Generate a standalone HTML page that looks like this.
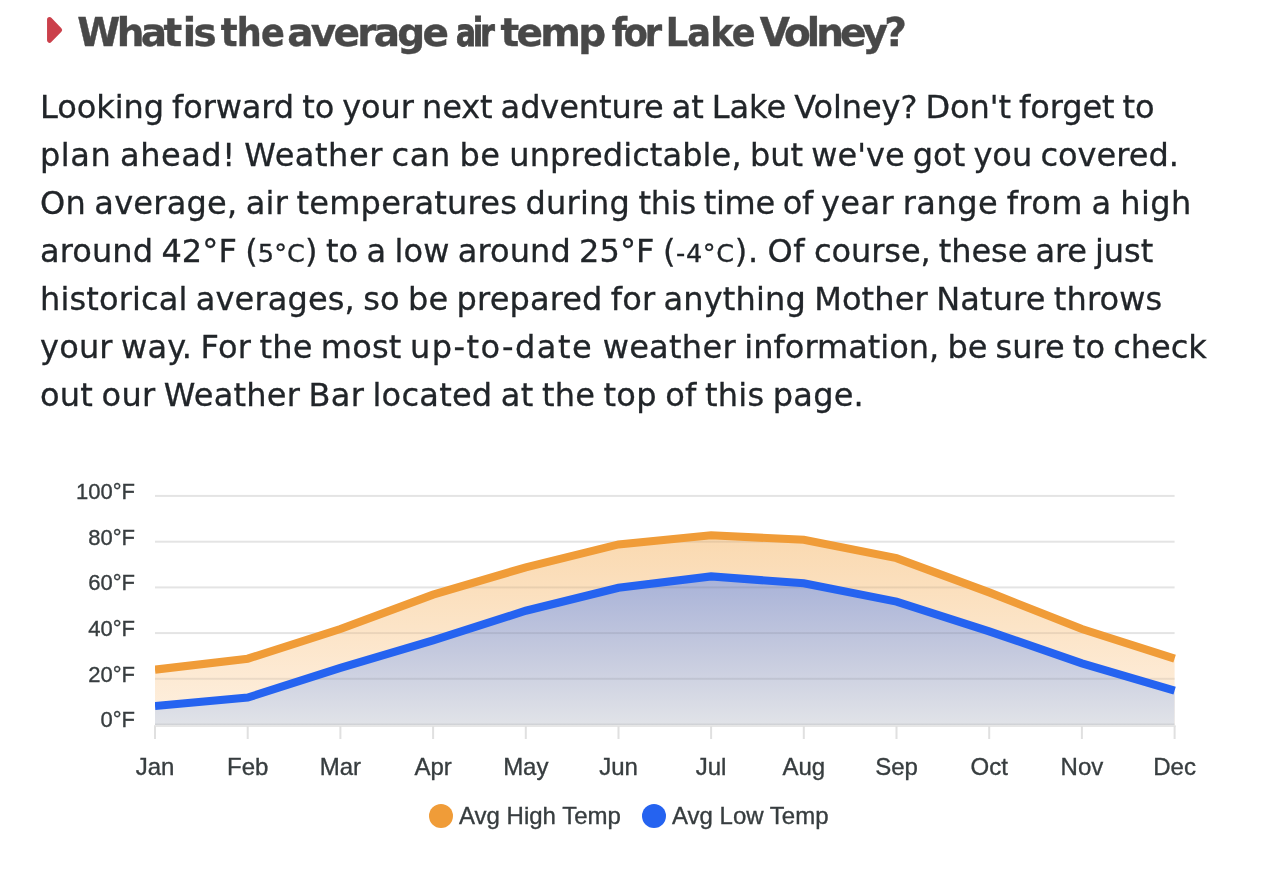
<!DOCTYPE html>
<html lang="en"><head><meta charset="utf-8"><title>Lake Volney average air temp</title>
<style>
html,body{margin:0;padding:0;background:#fff;}
body{width:1274px;height:896px;position:relative;overflow:hidden;font-family:"DejaVu Sans","Liberation Sans",sans-serif;}
.tri{position:absolute;left:40px;top:5px;}
.hd{position:absolute;left:0;top:8.5px;margin:0;width:1000px;height:48px;font-family:"DejaVu Sans","Liberation Sans",sans-serif;font-weight:bold;font-size:39px;line-height:48px;color:#484848;white-space:nowrap;-webkit-text-stroke:0.4px #484848;}
.hd span{position:absolute;top:0;display:block;transform-origin:0 0;}
.ln{position:absolute;left:40px;height:48px;line-height:48px;font-size:32px;color:#212529;white-space:nowrap;word-spacing:-2px;-webkit-text-stroke:0.3px #212529;}
small{font-size:25.6px;}
.chart{position:absolute;left:0;top:0;}
</style></head><body>
<svg class="tri" width="30" height="50" viewBox="40 5 30 50"><polygon points="49.55,19.6 59.6,29.95 49.55,40.3" fill="#cb404b" stroke="#cb404b" stroke-width="5" stroke-linejoin="round"/></svg>
<h2 class="hd"><span style="left:77.3px;letter-spacing:-3.62px;">What</span> <span style="left:182.7px;letter-spacing:-2.52px;">is</span> <span style="left:220.7px;letter-spacing:-0.76px;font-stretch:condensed;">the</span> <span style="left:287.3px;letter-spacing:-2.75px;">average</span> <span style="left:455.5px;letter-spacing:-3.4px;font-stretch:condensed;transform:scaleX(0.841);-webkit-text-stroke-width:0.88px;">air</span> <span style="left:500.5px;letter-spacing:-2.67px;">temp</span> <span style="left:611.8px;letter-spacing:-3.26px;font-stretch:condensed;">for</span> <span style="left:665.8px;letter-spacing:-0.8px;font-stretch:condensed;">Lake</span> <span style="left:759.8px;letter-spacing:-3.92px;">Volney?</span></h2>
<div class="ln" style="top:82.7px"><span style="letter-spacing:-0.081px">Looking forward to your next adventure at Lake Volney? Don't forget to</span></div>
<div class="ln" style="top:130.7px"><span style="letter-spacing:0.546px">plan ahead! Weather can be </span><span style="letter-spacing:0.098px">unpredictable, </span><span style="letter-spacing:0.008px">but we've got you covered.</span></div>
<div class="ln" style="top:178.7px"><span style="letter-spacing:0.23px">On average, air temperatures during </span><span style="letter-spacing:-0.274px">this time of </span><span style="letter-spacing:0.444px">year range from a high</span></div>
<div class="ln" style="top:226.7px"><span style="letter-spacing:0.1px">around 42°F (<small>5°C</small>) to a low around 25°F </span><span style="letter-spacing:0.638px">(<small>-4°C</small>). Of </span><span style="letter-spacing:-0.071px">course, these are just</span></div>
<div class="ln" style="top:274.7px"><span style="letter-spacing:0.138px">historical averages, so be prepared for anything Mother Nature throws</span></div>
<div class="ln" style="top:322.7px"><span style="letter-spacing:0.188px">your way. For the most </span><span style="letter-spacing:1.453px">up-to-date </span><span style="letter-spacing:0.295px">weather </span><span style="letter-spacing:0.0px">information, be sure to check</span></div>
<div class="ln" style="top:370.7px"><span style="letter-spacing:0.246px">out our Weather Bar located at the top of this page.</span></div>
<svg class="chart" width="1274" height="896" viewBox="0 0 1274 896">
<defs>
<linearGradient id="go" x1="0" y1="0" x2="0" y2="1"><stop offset="0" stop-color="#fad9b0"/><stop offset="1" stop-color="#fef0e0"/></linearGradient>
<linearGradient id="gb" x1="0" y1="0" x2="0" y2="1"><stop offset="0" stop-color="#a8b2d8"/><stop offset="0.5" stop-color="#c4c9de"/><stop offset="1" stop-color="#e1e3e8"/></linearGradient>
<clipPath id="ca"><path d="M155.0,725.0 L155.0,669.7 L247.7,658.7 L340.4,629.0 L433.1,594.7 L525.8,567.3 L618.5,544.4 L711.1,535.3 L803.8,539.8 L896.5,558.1 L989.2,592.4 L1081.9,629.0 L1174.6,658.7 L1174.6,725.0 Z"/></clipPath>
<clipPath id="cp"><rect x="155.0" y="480" width="1021.1" height="260"/></clipPath>
</defs>
<rect x="155.0" y="723.5" width="1019.6" height="2" fill="#e4e4e4"/>
<rect x="155.0" y="677.8" width="1019.6" height="2" fill="#e4e4e4"/>
<rect x="155.0" y="632.1" width="1019.6" height="2" fill="#e4e4e4"/>
<rect x="155.0" y="586.4" width="1019.6" height="2" fill="#e4e4e4"/>
<rect x="155.0" y="540.7" width="1019.6" height="2" fill="#e4e4e4"/>
<rect x="155.0" y="494.9" width="1019.6" height="2" fill="#e4e4e4"/>
<path d="M155.0,725.0 L155.0,669.7 L247.7,658.7 L340.4,629.0 L433.1,594.7 L525.8,567.3 L618.5,544.4 L711.1,535.3 L803.8,539.8 L896.5,558.1 L989.2,592.4 L1081.9,629.0 L1174.6,658.7 L1174.6,725.0 Z" fill="url(#go)"/>
<path d="M155.0,725.0 L155.0,706.0 L247.7,697.6 L340.4,667.9 L433.1,640.4 L525.8,610.7 L618.5,587.8 L711.1,576.4 L803.8,583.3 L896.5,601.6 L989.2,631.3 L1081.9,663.3 L1174.6,690.7 L1174.6,725.0 Z" fill="url(#gb)"/>
<g clip-path="url(#ca)">
<rect x="155.0" y="723.5" width="1019.6" height="2" fill="#000" fill-opacity="0.07"/>
<rect x="155.0" y="677.8" width="1019.6" height="2" fill="#000" fill-opacity="0.07"/>
<rect x="155.0" y="632.1" width="1019.6" height="2" fill="#000" fill-opacity="0.07"/>
<rect x="155.0" y="586.4" width="1019.6" height="2" fill="#000" fill-opacity="0.07"/>
<rect x="155.0" y="540.7" width="1019.6" height="2" fill="#000" fill-opacity="0.07"/>
<rect x="155.0" y="494.9" width="1019.6" height="2" fill="#000" fill-opacity="0.07"/>
</g>
<rect x="154.0" y="725" width="1021.6" height="2" fill="#e6e6e6"/>
<g clip-path="url(#cp)"><polyline points="155.0,669.7 247.7,658.7 340.4,629.0 433.1,594.7 525.8,567.3 618.5,544.4 711.1,535.3 803.8,539.8 896.5,558.1 989.2,592.4 1081.9,629.0 1174.6,658.7" fill="none" stroke="#f09c38" stroke-width="8.1" stroke-linejoin="miter"/>
<polyline points="155.0,706.0 247.7,697.6 340.4,667.9 433.1,640.4 525.8,610.7 618.5,587.8 711.1,576.4 803.8,583.3 896.5,601.6 989.2,631.3 1081.9,663.3 1174.6,690.7" fill="none" stroke="#2563f0" stroke-width="8.1" stroke-linejoin="miter"/></g>
<rect x="154.0" y="726" width="2" height="13" fill="#e0e0e0"/>
<rect x="246.7" y="726" width="2" height="13" fill="#e0e0e0"/>
<rect x="339.4" y="726" width="2" height="13" fill="#e0e0e0"/>
<rect x="432.1" y="726" width="2" height="13" fill="#e0e0e0"/>
<rect x="524.8" y="726" width="2" height="13" fill="#e0e0e0"/>
<rect x="617.5" y="726" width="2" height="13" fill="#e0e0e0"/>
<rect x="710.1" y="726" width="2" height="13" fill="#e0e0e0"/>
<rect x="802.8" y="726" width="2" height="13" fill="#e0e0e0"/>
<rect x="895.5" y="726" width="2" height="13" fill="#e0e0e0"/>
<rect x="988.2" y="726" width="2" height="13" fill="#e0e0e0"/>
<rect x="1080.9" y="726" width="2" height="13" fill="#e0e0e0"/>
<rect x="1173.6" y="726" width="2" height="13" fill="#e0e0e0"/>
<g font-family="'Liberation Sans', Arial, Helvetica, sans-serif" fill="#373d3f" stroke="#373d3f" stroke-width="0.35">
<text x="134.9" y="727.4" font-size="22" text-anchor="end">0°F</text>
<text x="134.9" y="681.7" font-size="22" text-anchor="end">20°F</text>
<text x="134.9" y="636.0" font-size="22" text-anchor="end">40°F</text>
<text x="134.9" y="590.2" font-size="22" text-anchor="end">60°F</text>
<text x="134.9" y="544.5" font-size="22" text-anchor="end">80°F</text>
<text x="134.9" y="498.8" font-size="22" text-anchor="end">100°F</text>
<text x="155.0" y="774.5" font-size="24" text-anchor="middle">Jan</text>
<text x="247.7" y="774.5" font-size="24" text-anchor="middle">Feb</text>
<text x="340.4" y="774.5" font-size="24" text-anchor="middle">Mar</text>
<text x="433.1" y="774.5" font-size="24" text-anchor="middle">Apr</text>
<text x="525.8" y="774.5" font-size="24" text-anchor="middle">May</text>
<text x="618.5" y="774.5" font-size="24" text-anchor="middle">Jun</text>
<text x="711.1" y="774.5" font-size="24" text-anchor="middle">Jul</text>
<text x="803.8" y="774.5" font-size="24" text-anchor="middle">Aug</text>
<text x="896.5" y="774.5" font-size="24" text-anchor="middle">Sep</text>
<text x="989.2" y="774.5" font-size="24" text-anchor="middle">Oct</text>
<text x="1081.9" y="774.5" font-size="24" text-anchor="middle">Nov</text>
<text x="1174.6" y="774.5" font-size="24" text-anchor="middle">Dec</text>
<text x="459" y="824" font-size="24">Avg High Temp</text>
<text x="672" y="824" font-size="24">Avg Low Temp</text>
</g>
<circle cx="441" cy="816" r="12" fill="#f09c38"/>
<circle cx="654" cy="816" r="12" fill="#2563f0"/>
</svg>
</body></html>
